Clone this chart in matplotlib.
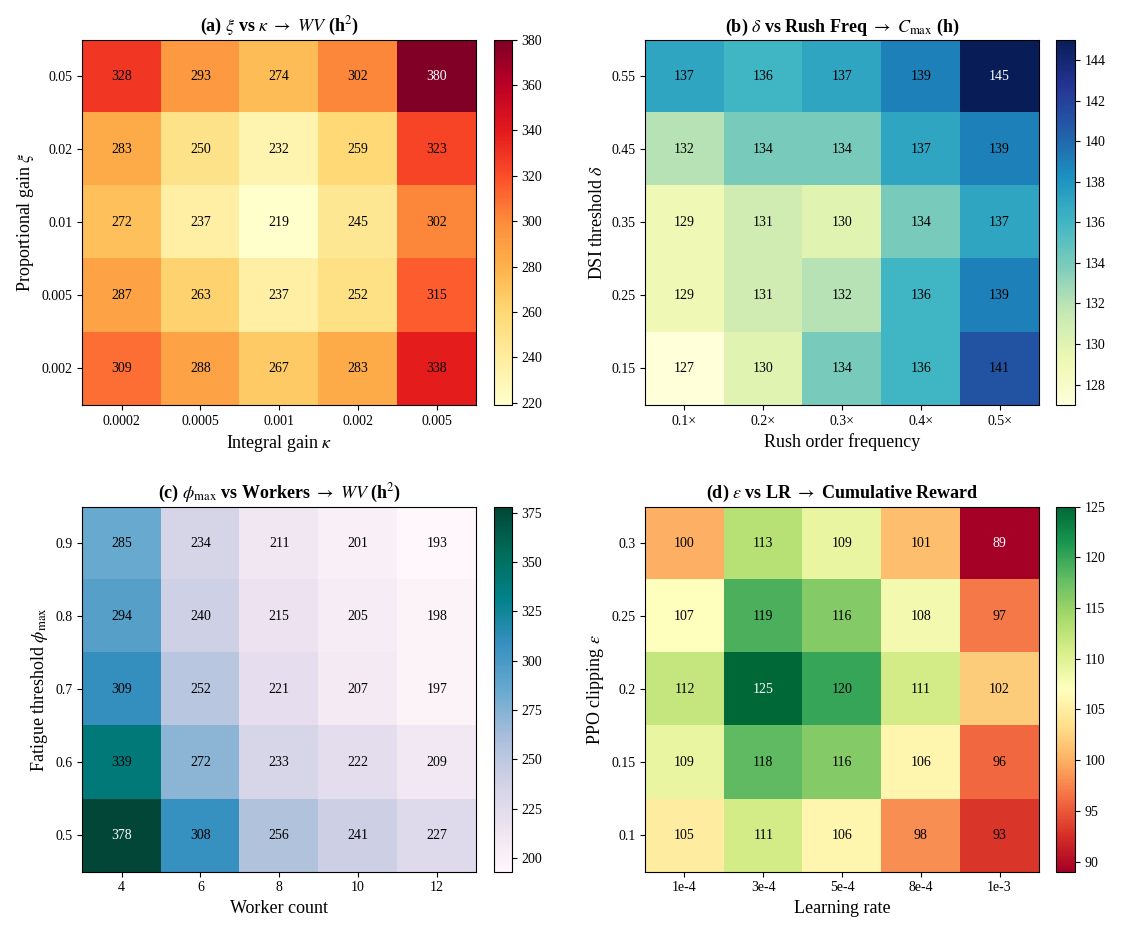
import matplotlib.pyplot as plt
import numpy as np

plt.rcParams['font.family'] = ['Liberation Serif', 'DejaVu Serif']
plt.rcParams['mathtext.fontset'] = 'stix'

# (a) rows top->bottom
a_rows = ["0.05", "0.02", "0.01", "0.005", "0.002"]
a_cols = ["0.0002", "0.0005", "0.001", "0.002", "0.005"]
a_vals = [[328, 293, 274, 302, 380],
          [283, 250, 232, 259, 323],
          [272, 237, 219, 245, 302],
          [287, 263, 237, 252, 315],
          [309, 288, 267, 283, 338]]

b_rows = ["0.55", "0.45", "0.35", "0.25", "0.15"]
b_cols = ["0.1×", "0.2×", "0.3×", "0.4×", "0.5×"]
b_vals = [[137, 136, 137, 139, 145],
          [132, 134, 134, 137, 139],
          [129, 131, 130, 134, 137],
          [129, 131, 132, 136, 139],
          [127, 130, 134, 136, 141]]

c_rows = ["0.9", "0.8", "0.7", "0.6", "0.5"]
c_cols = ["4", "6", "8", "10", "12"]
c_vals = [[285, 234, 211, 201, 193],
          [294, 240, 215, 205, 198],
          [309, 252, 221, 207, 197],
          [339, 272, 233, 222, 209],
          [378, 308, 256, 241, 227]]

d_rows = ["0.3", "0.25", "0.2", "0.15", "0.1"]
d_cols = ["1e-4", "3e-4", "5e-4", "8e-4", "1e-3"]
d_vals = [[100, 113, 109, 101, 89],
          [107, 119, 116, 108, 97],
          [112, 125, 120, 111, 102],
          [109, 118, 116, 106, 96],
          [105, 111, 106, 98, 93]]

panels = [
    (a_vals, a_rows, a_cols, "YlOrRd", r"(a) $\xi$ vs $\kappa$ $\rightarrow$ $WV$ (h$^2$)",
     r"Integral gain $\kappa$", r"Proportional gain $\xi$"),
    (b_vals, b_rows, b_cols, "YlGnBu", r"(b) $\delta$ vs Rush Freq $\rightarrow$ $C_{\max}$ (h)",
     "Rush order frequency", r"DSI threshold $\delta$"),
    (c_vals, c_rows, c_cols, "PuBuGn", r"(c) $\phi_{\max}$ vs Workers $\rightarrow$ $WV$ (h$^2$)",
     "Worker count", r"Fatigue threshold $\phi_{\max}$"),
    (d_vals, d_rows, d_cols, "RdYlGn", r"(d) $\epsilon$ vs LR $\rightarrow$ Cumulative Reward",
     "Learning rate", r"PPO clipping $\epsilon$"),
]

fig, axes = plt.subplots(2, 2, figsize=(11.21, 9.32), dpi=100)
for ax, (vals, rows, cols, cmap, title, xl, yl) in zip(axes.flat, panels):
    data = np.array(vals)
    im = ax.imshow(data, cmap=cmap, aspect='auto')
    cb = fig.colorbar(im, ax=ax, fraction=0.06, pad=0.04)
    cb.ax.tick_params(labelsize=10)
    ax.set_xticks(range(len(cols)))
    ax.set_xticklabels(cols)
    ax.set_yticks(range(len(rows)))
    ax.set_yticklabels(rows)
    ax.tick_params(labelsize=10)
    ax.set_xlabel(xl, fontsize=13)
    ax.set_ylabel(yl, fontsize=13)
    ax.set_title(title, fontsize=13, fontweight='bold')
    norm = im.norm
    cm = plt.get_cmap(cmap)
    for i in range(data.shape[0]):
        for j in range(data.shape[1]):
            r, g, b, _ = cm(norm(data[i, j]))
            lum = 0.299 * r + 0.587 * g + 0.114 * b
            ax.text(j, i, str(data[i, j]), ha='center', va='center', fontsize=10,
                    color='white' if lum < 0.3 else 'black')

fig.tight_layout(h_pad=2.0, w_pad=3.0)
fig.savefig("out.png", dpi=100)
